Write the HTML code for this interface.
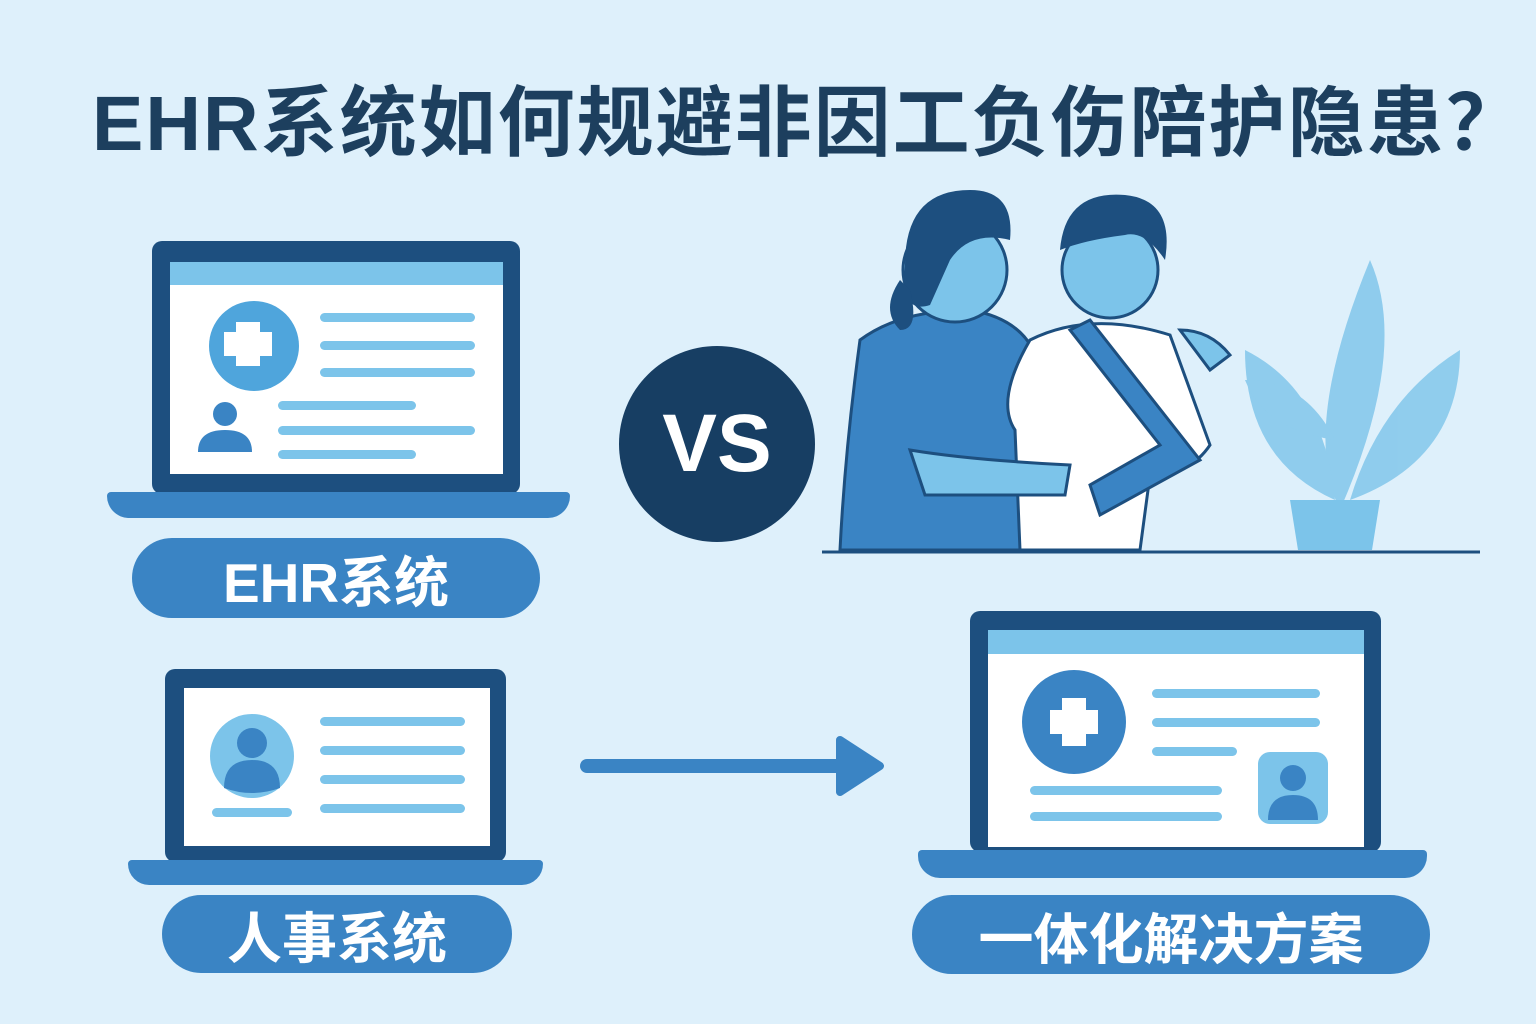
<!DOCTYPE html>
<html><head><meta charset="utf-8"><style>
body{margin:0;width:1536px;height:1024px;background:#def0fb;position:relative;overflow:hidden;font-family:"Liberation Sans","Noto Sans CJK SC",sans-serif}
.a{position:absolute}
.scr{position:absolute;background:#1d4f7f;border-radius:10px}
.in{position:absolute;background:#fff}
.bar{position:absolute;background:#7cc4ea}
.base{position:absolute;background:#3a84c4;border-radius:4px 4px 22px 22px}
.pill{position:absolute;background:#3a84c4;border-radius:40px;color:#fff;font-weight:bold;display:flex;align-items:center;justify-content:center;font-size:55px}
.ln{position:absolute;background:#7cc4ea;height:9px;border-radius:5px}
</style></head><body>
<div class="a" style="left:92px;top:62px;font-size:77px;font-weight:bold;color:#1d3f5e;white-space:nowrap;letter-spacing:2px">EHR系统如何规避非因工负伤陪护隐患？</div>

<!-- laptop 1 -->
<div class="scr" style="left:152px;top:241px;width:368px;height:253px"></div>
<div class="in" style="left:170px;top:262px;width:333px;height:212px"></div>
<div class="bar" style="left:170px;top:262px;width:333px;height:23px"></div>
<svg class="a" style="left:170px;top:262px" width="333" height="212">
<circle cx="84" cy="84" r="45" fill="#4fa5dc"/><path d="M72 62h24v10h12v24h-12v10h-24v-10h-12v-24h12z" fill="#fff" transform="translate(-6,-2)"/>
<circle cx="55" cy="152" r="12" fill="#3a84c4"/><path d="M28 190q0-22 27-22t27 22z" fill="#3a84c4"/>
</svg>
<div class="ln" style="left:320px;top:313px;width:155px"></div>
<div class="ln" style="left:320px;top:341px;width:155px"></div>
<div class="ln" style="left:320px;top:368px;width:155px"></div>
<div class="ln" style="left:278px;top:401px;width:138px"></div>
<div class="ln" style="left:278px;top:426px;width:197px"></div>
<div class="ln" style="left:278px;top:450px;width:138px"></div>
<div class="base" style="left:107px;top:492px;width:463px;height:26px"></div>
<div class="pill" style="left:132px;top:538px;width:408px;height:80px">EHR系统</div>

<!-- VS -->
<div class="a" style="left:619px;top:346px;width:196px;height:196px;border-radius:50%;background:#173e63;color:#fff;font-weight:bold;font-size:82px;display:flex;align-items:center;justify-content:center">VS</div>

<!-- illustration -->
<svg class="a" style="left:820px;top:180px" width="680" height="380">
<g fill="#7cc4ea" opacity=".8">
<path d="M520 330q-40-80 30-250q40 90-30 250z"/><path d="M515 320q-90-40-90-150q80 40 90 150z"/><path d="M530 320q30-100 110-150q0 110-110 150z"/><path d="M515 260q-70-10-90-60q60 0 90 60z"/>
</g>
<path d="M470 320h90l-8 50h-74z" fill="#7cc4ea"/>
<path d="M40 160q40-30 110-30q60 10 70 60l-10 180h-190q5-100 20-210z" fill="#3a84c4" stroke="#1d4f7f" stroke-width="3"/>
<circle cx="135" cy="90" r="52" fill="#7cc4ea" stroke="#1d4f7f" stroke-width="3"/>
<path d="M85 85q0-75 65-75q45 0 40 50q-40-10-60 20l-20 45q-30 10-25-40z" fill="#1d4f7f"/>
<path d="M80 100q-20 30 0 50q20 0 10-40z" fill="#1d4f7f"/>
<path d="M210 160q60-30 140-5l40 110q-20 30-60 30l-10 75h-120l-5-120q-20-30 15-90z" fill="#fff" stroke="#1d4f7f" stroke-width="3"/>
<circle cx="290" cy="90" r="48" fill="#7cc4ea" stroke="#1d4f7f" stroke-width="3"/>
<path d="M240 70q5-60 65-55q50 5 40 65q-20-30-40-25q-40 5-65 15z" fill="#1d4f7f"/>
<path d="M270 140l110 140l-100 55l-10-30l70-40l-90-115z" fill="#3a84c4" stroke="#1d4f7f" stroke-width="3"/>
<path d="M90 270q60 10 160 15l-5 30h-140z" fill="#7cc4ea" stroke="#1d4f7f" stroke-width="3"/>
<path d="M360 150q30 0 50 25l-20 15z" fill="#7cc4ea" stroke="#1d4f7f" stroke-width="3"/>
<line x1="2" y1="372" x2="660" y2="372" stroke="#1d4f7f" stroke-width="3"/>
</svg>

<!-- laptop 2 -->
<div class="scr" style="left:165px;top:669px;width:341px;height:193px"></div>
<div class="in" style="left:184px;top:688px;width:306px;height:158px"></div>
<svg class="a" style="left:184px;top:688px" width="306" height="158">
<circle cx="68" cy="68" r="42" fill="#7cc4ea"/><circle cx="68" cy="55" r="15" fill="#3a84c4"/><path d="M40 100q0-28 28-28t28 28q-28 10-56 0z" fill="#3a84c4"/>
</svg>
<div class="ln" style="left:320px;top:717px;width:145px"></div>
<div class="ln" style="left:320px;top:746px;width:145px"></div>
<div class="ln" style="left:320px;top:775px;width:145px"></div>
<div class="ln" style="left:320px;top:804px;width:145px"></div>
<div class="ln" style="left:212px;top:808px;width:80px"></div>
<div class="base" style="left:128px;top:860px;width:415px;height:25px"></div>
<div class="pill" style="left:162px;top:895px;width:350px;height:78px">人事系统</div>

<!-- arrow -->
<svg class="a" style="left:575px;top:730px" width="320" height="75">
<line x1="12" y1="36" x2="285" y2="36" stroke="#3a84c4" stroke-width="14" stroke-linecap="round"/>
<path d="M265 10l40 26l-40 26z" fill="#3a84c4" stroke="#3a84c4" stroke-width="8" stroke-linejoin="round"/>
</svg>

<!-- laptop 3 -->
<div class="scr" style="left:970px;top:611px;width:411px;height:241px"></div>
<div class="in" style="left:988px;top:630px;width:376px;height:217px"></div>
<div class="bar" style="left:988px;top:630px;width:376px;height:24px"></div>
<svg class="a" style="left:988px;top:630px" width="376" height="217">
<circle cx="86" cy="92" r="52" fill="#3a84c4"/><path d="M74 68h24v12h12v24h-12v12h-24v-12h-12v-24h12z" fill="#fff"/>
<rect x="270" y="122" width="70" height="72" rx="12" fill="#7cc4ea"/><circle cx="305" cy="148" r="13" fill="#3a84c4"/><path d="M280 190q0-25 25-25t25 25z" fill="#3a84c4"/>
</svg>
<div class="ln" style="left:1152px;top:689px;width:168px"></div>
<div class="ln" style="left:1152px;top:718px;width:168px"></div>
<div class="ln" style="left:1152px;top:747px;width:85px"></div>
<div class="ln" style="left:1030px;top:786px;width:192px"></div>
<div class="ln" style="left:1030px;top:812px;width:192px"></div>
<div class="base" style="left:918px;top:850px;width:509px;height:28px"></div>
<div class="pill" style="left:912px;top:895px;width:518px;height:79px">一体化解决方案</div>
</body></html>
